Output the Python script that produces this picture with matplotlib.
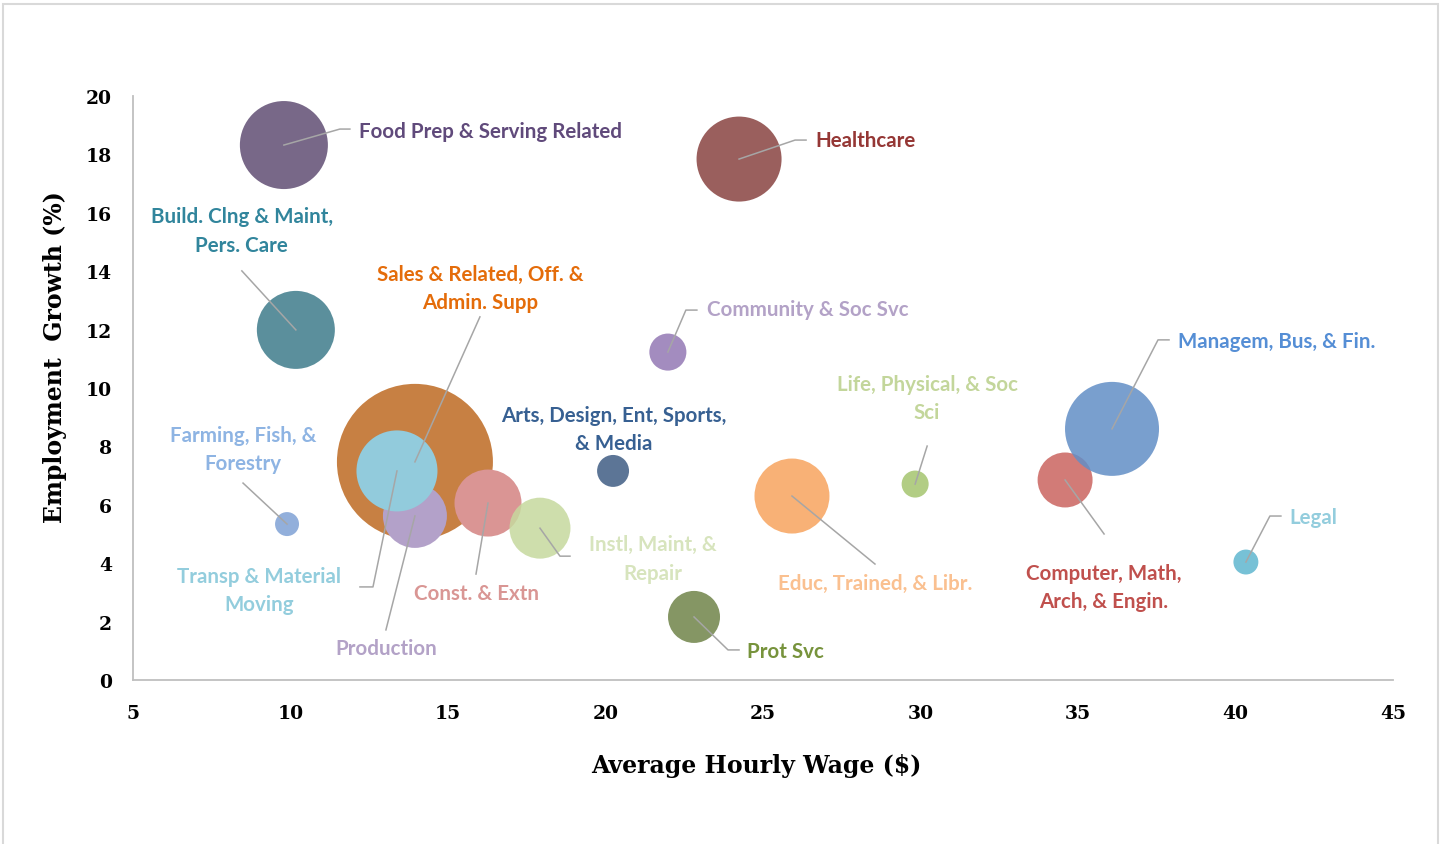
import matplotlib.pyplot as plt
from matplotlib.lines import Line2D
from matplotlib.patches import Rectangle
from matplotlib.transforms import IdentityTransform

# Occupation groups (drawing order: big Sales bubble first)
groups = ['Sales & Related, Off. &\nAdmin. Supp', 'Production', 'Transp & Material\nMoving',
          'Const. & Extn', 'Instl, Maint, &\nRepair', 'Computer, Math,\nArch, & Engin.',
          'Managem, Bus, & Fin.', 'Food Prep & Serving Related', 'Healthcare',
          'Build. Clng & Maint,\nPers. Care', 'Community & Soc Svc', 'Life, Physical, & Soc\nSci',
          'Arts, Design, Ent, Sports,\n& Media', 'Farming, Fish, &\nForestry',
          'Educ, Trained, & Libr.', 'Prot Svc', 'Legal']
wage = [13.95, 13.95, 13.38, 16.27, 17.92, 34.59, 36.08, 9.79, 24.24,
        10.17, 21.98, 29.83, 20.24, 9.89, 25.92, 22.81, 40.33]
growth = [7.47, 5.62, 7.16, 6.06, 5.20, 6.85, 8.60, 18.32, 17.84,
          11.99, 11.23, 6.71, 7.16, 5.34, 6.30, 2.16, 4.04]
employment = [36.0, 6.06, 9.71, 6.64, 5.50, 4.47, 13.07, 11.46, 10.69,
              9.00, 2.03, 1.08, 1.51, 0.85, 8.32, 4.00, 0.92]

bubble_colors = ['#C78043', '#B3A1C9', '#92CBDC', '#DA9594', '#C6D99E', '#D27B77',
                 '#628EC6', '#786888', '#9A5F5D', '#5B8F9C', '#A38CBF', '#B2CD84',
                 '#5C7596', '#92AFDB', '#F8B176', '#859664', '#77C1D6']
bubble_alpha = [1, 1, 1, 1, 0.85, 1, 0.85, 1, 1, 1, 1, 1, 1, 1, 1, 1, 1]
label_colors = ['#E46C0A', '#B3A2C7', '#93CDDD', '#D99694', '#D7E4BD', '#C0504D',
                '#558ED5', '#604A7B', '#953735', '#31859C', '#B3A2C7', '#C3D69B',
                '#376092', '#8EB4E3', '#FAC090', '#77933C', '#93CDDD']

# label layout: text offset (px from bubble centre), alignment, leader path offsets
label_layout = [
    ((65, 174), 'center', [(65, 145)]),
    ((-29, -132), 'center', [(-29, -114)]),
    ((-138, -119), 'center', [(-24, -116), (-37, -116)]),
    ((-12, -90), 'center', [(-12, -71)]),
    ((113, -30), 'center', [(20, -28), (30, -28)]),
    ((39, -107), 'center', [(39, -54)]),
    ((66, 88), 'left', [(46, 89), (57, 89)]),
    ((75, 14), 'left', [(56, 16), (66, 16)]),
    ((76, 19), 'left', [(56, 19), (67, 19)]),
    ((-54, 99), 'center', [(-54, 59)]),
    ((39, 43), 'left', [(18, 42), (29, 42)]),
    ((12, 86), 'center', [(12, 38)]),
    ((1, 42), 'center', []),
    ((-44, 75), 'center', [(-44, 41)]),
    ((83, -87), 'center', [(83, -68)]),
    ((53, -34), 'left', [(34, -33), (45, -33)]),
    ((43, 45), 'left', [(24, 46), (35, 46)]),
]

W, H, DPI = 1442, 845, 100
fig = plt.figure(figsize=(W / DPI, H / DPI), dpi=DPI)
ax = fig.add_axes([133 / W, 1 - 681 / H, 1260 / W, 584 / H])

# bubble radius in px = 13 * sqrt(employment)
px_scale = 13.0
for i in range(len(groups)):
    r_px = px_scale * employment[i] ** 0.5
    s = (2 * r_px * 72 / DPI) ** 2
    ax.scatter(wage[i], growth[i], s=s, color=bubble_colors[i], alpha=bubble_alpha[i],
               edgecolors='none', zorder=2 + i * 0.01)

ax.set_xlim(5, 45)
ax.set_ylim(0, 20)
ax.set_xticks(range(5, 46, 5))
ax.set_yticks(range(0, 21, 2))
for side in ['top', 'right']:
    ax.spines[side].set_visible(False)
for side in ['left', 'bottom']:
    ax.spines[side].set_color('#BFBFBF')
    ax.spines[side].set_linewidth(1.3)
ax.tick_params(length=0)
ax.tick_params(axis='x', pad=17)
ax.tick_params(axis='y', pad=15)
for lab in ax.get_xticklabels() + ax.get_yticklabels():
    lab.set_fontfamily('DejaVu Serif')
    lab.set_fontweight('bold')
    lab.set_fontsize(13.5)

ax.set_xlabel('Average Hourly Wage ($)', fontfamily='DejaVu Serif', fontweight='bold',
              fontsize=17)
ax.set_ylabel('Employment  Growth (%)', fontfamily='DejaVu Serif', fontweight='bold',
              fontsize=17)
ax.xaxis.set_label_coords(0.495, -0.125)
ax.yaxis.set_label_coords(-0.052, 0.555)

# labels and leader lines
for i, name in enumerate(groups):
    (dx, dy), ha, path = label_layout[i]
    ax.annotate(name, xy=(wage[i], growth[i]), xytext=(dx, dy), textcoords='offset pixels',
                ha=ha, va='center', color=label_colors[i], fontfamily='Lato',
                fontweight='bold', fontsize=14.8, linespacing=1.55, zorder=10)
    if path:
        cx, cy = ax.transData.transform((wage[i], growth[i]))
        xs = [cx] + [cx + p[0] for p in path]
        ys = [cy] + [cy + p[1] for p in path]
        fig.add_artist(Line2D(xs, ys, transform=IdentityTransform(), color='#A6A6A6',
                              linewidth=1.1, zorder=9))

# chart area border
fig.add_artist(Rectangle((3 / W, -0.01), 1435 / W, 1 - 5 / H + 0.01, transform=fig.transFigure,
                         fill=False, edgecolor='#D9D9D9', linewidth=1.5))

fig.savefig('out.png', dpi=DPI)
